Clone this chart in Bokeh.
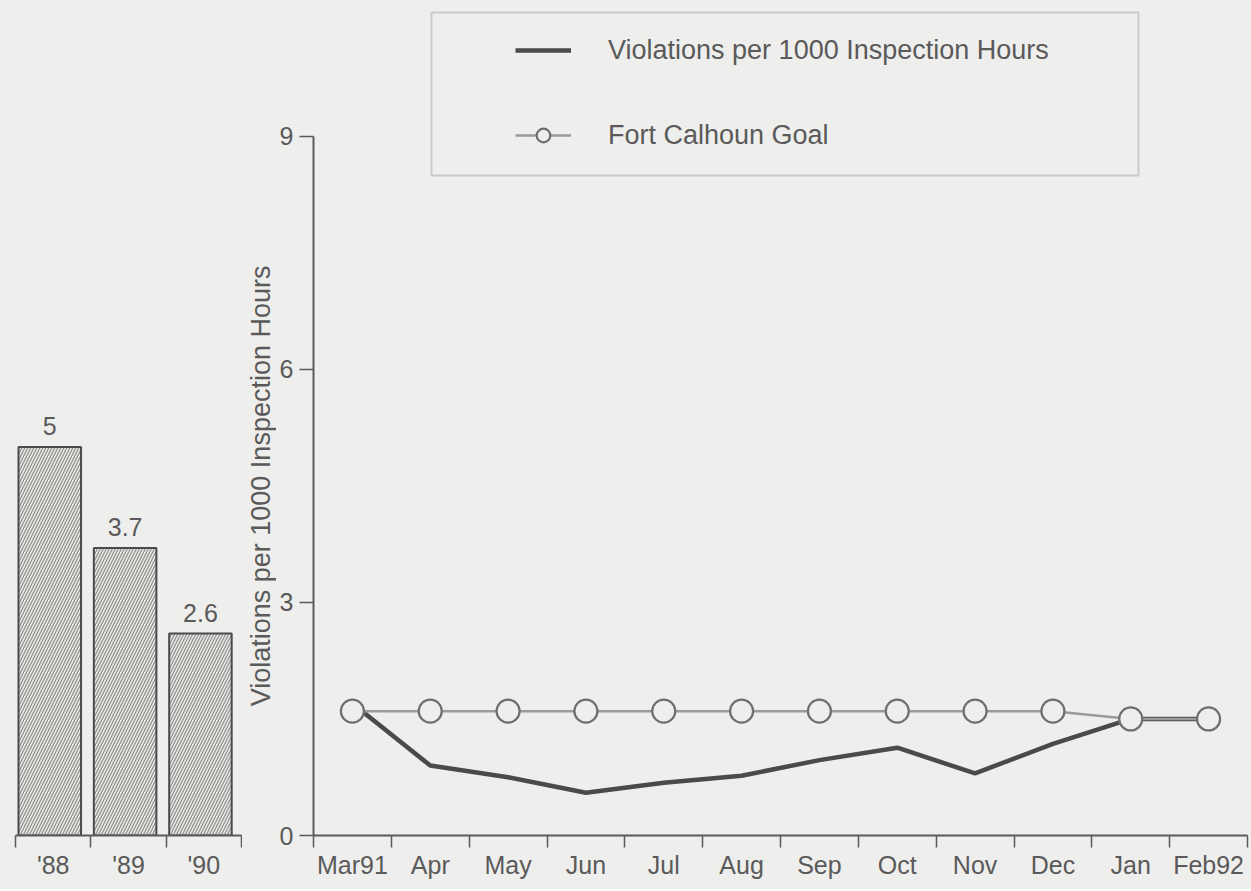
import math
from bokeh.plotting import figure
from bokeh.models import (FactorRange, Range1d, LinearAxis, CategoricalAxis, FixedTicker,
                          Legend, LegendItem, BoxAnnotation, ColumnDataSource)
from bokeh.layouts import row
from bokeh.transform import dodge
from bokeh.embed import file_html
from bokeh.resources import INLINE
from bokeh.core.properties import value

# ---------------- data ----------------
years = ["'88", "'89", "'90"]
year_values = [5, 3.7, 2.6]
year_labels = ["5", "3.7", "2.6"]

months = ["Mar91", "Apr", "May", "Jun", "Jul", "Aug", "Sep", "Oct", "Nov", "Dec", "Jan", "Feb92"]
violations = [1.7, 0.9, 0.75, 0.55, 0.68, 0.77, 0.97, 1.13, 0.8, 1.18, 1.5, 1.5]
goal = [1.6, 1.6, 1.6, 1.6, 1.6, 1.6, 1.6, 1.6, 1.6, 1.6, 1.5, 1.5]

y_ticks = [0, 3, 6, 9]
y_label = "Violations per 1000 Inspection Hours"
series_names = ["Violations per 1000 Inspection Hours", "Fort Calhoun Goal"]

# ---------------- style ----------------
BG = "#eeeeec"
INK = "#5a5a5a"
FONT = "Liberation Sans"
H = 889
TOP = 10
BOTTOM = 54
LEFT_W = 242
MID_W = 34

y_range = Range1d(0, 10.62)


def edge_axes(p, factors):
    # ticks on the category boundaries (synthetic coordinates 0..n of the factor range)
    n = len(factors)
    ax = LinearAxis(ticker=FixedTicker(ticks=list(range(n + 1))),
                    major_tick_in=0, major_tick_out=12, minor_tick_line_color=None,
                    major_label_text_font_size="1px", major_label_text_color=None,
                    major_label_standoff=0,
                    axis_line_color=INK, axis_line_width=2,
                    major_tick_line_color=INK, major_tick_line_width=1.5)
    p.add_layout(ax, "below")
    cat = CategoricalAxis(major_tick_line_color=None, major_tick_in=0, major_tick_out=0,
                          axis_line_color=None,
                          major_label_text_font=FONT, major_label_text_font_size="25px",
                          major_label_text_color=INK, major_label_standoff=3)
    p.add_layout(cat, "below")


common = dict(toolbar_location=None, output_backend="svg", x_axis_location=None,
              y_axis_location=None, background_fill_color=BG, border_fill_color=BG,
              outline_line_color=None, min_border_top=TOP, min_border_bottom=BOTTOM)

# ---------------- left: yearly bars ----------------
left = figure(width=LEFT_W, height=H, x_range=FactorRange(*years, range_padding=0),
              y_range=y_range, min_border_left=15, min_border_right=1, **common)
left.grid.visible = False
edge_axes(left, years)

bsrc = ColumnDataSource(dict(year=years, value=year_values, label=year_labels))
left.vbar(x=dodge("year", -0.045, range=left.x_range), top="value", width=0.83, source=bsrc,
          fill_color="#e6e6e3", line_color="#4a4a4a", line_width=2,
          hatch_pattern="/", hatch_color="#8a8a8a", hatch_scale=6, hatch_weight=1.1)
left.text(x=dodge("year", -0.045, range=left.x_range), y="value", text="label", source=bsrc,
          text_align="center", text_baseline="bottom", y_offset=-12,
          text_font=value(FONT), text_font_size="25px", text_color=INK)

# ---------------- middle strip: the y axis title, centred on the 0..9 axis ----------------
mid = figure(width=MID_W, height=H, x_range=Range1d(0, 1), y_range=y_range,
             min_border_left=0, min_border_right=0, **common)
mid.grid.visible = False
mid.text(x=[0.55], y=[(y_ticks[0] + y_ticks[-1]) / 2], text=[y_label], angle=math.pi / 2,
         text_align="center", text_baseline="middle",
         text_font=value(FONT), text_font_size="27px", text_color=INK)

# ---------------- right: monthly lines ----------------
right = figure(width=1251 - LEFT_W - MID_W, height=H,
               x_range=FactorRange(*months, range_padding=0), y_range=y_range,
               min_border_left=34, min_border_right=4, **common)
right.grid.visible = False
edge_axes(right, months)

yax = LinearAxis(ticker=FixedTicker(ticks=y_ticks), bounds=(y_ticks[0], y_ticks[-1]),
                 major_tick_in=0, major_tick_out=14, minor_tick_line_color=None,
                 axis_line_color=INK, axis_line_width=2,
                 major_tick_line_color=INK, major_tick_line_width=1.5,
                 major_label_text_font=FONT, major_label_text_font_size="25px",
                 major_label_text_color=INK, major_label_standoff=6)
right.add_layout(yax, "left")

src = ColumnDataSource(dict(month=months, violations=violations, goal=goal))
vl = right.line("month", "violations", source=src, line_color="#4a4a4a", line_width=4.5)
gl = right.line("month", "goal", source=src, line_color="#9a9a9a", line_width=2.5)
gc = right.scatter("month", "goal", source=src, size=23, fill_color=BG,
                   line_color="#6f6f6f", line_width=2.2)

legend = Legend(items=[LegendItem(label=series_names[0], renderers=[vl]),
                       LegendItem(label=series_names[1], renderers=[gl, gc])],
                location=(202, 683), orientation="vertical", padding=0, margin=0, spacing=51,
                glyph_width=56, glyph_height=34, label_height=34, label_standoff=37,
                label_text_font=FONT, label_text_font_size="27px", label_text_color=INK,
                border_line_color=None, background_fill_alpha=0)
right.add_layout(legend)

box = BoxAnnotation(left=118, right=825, bottom=660, top=823,
                    left_units="screen", right_units="screen",
                    top_units="screen", bottom_units="screen",
                    fill_alpha=0, line_color="#777777", line_width=2)
right.add_layout(box)

layout = row(left, mid, right, styles={"background-color": BG})
open("out.html", "w").write(file_html(layout, INLINE))
